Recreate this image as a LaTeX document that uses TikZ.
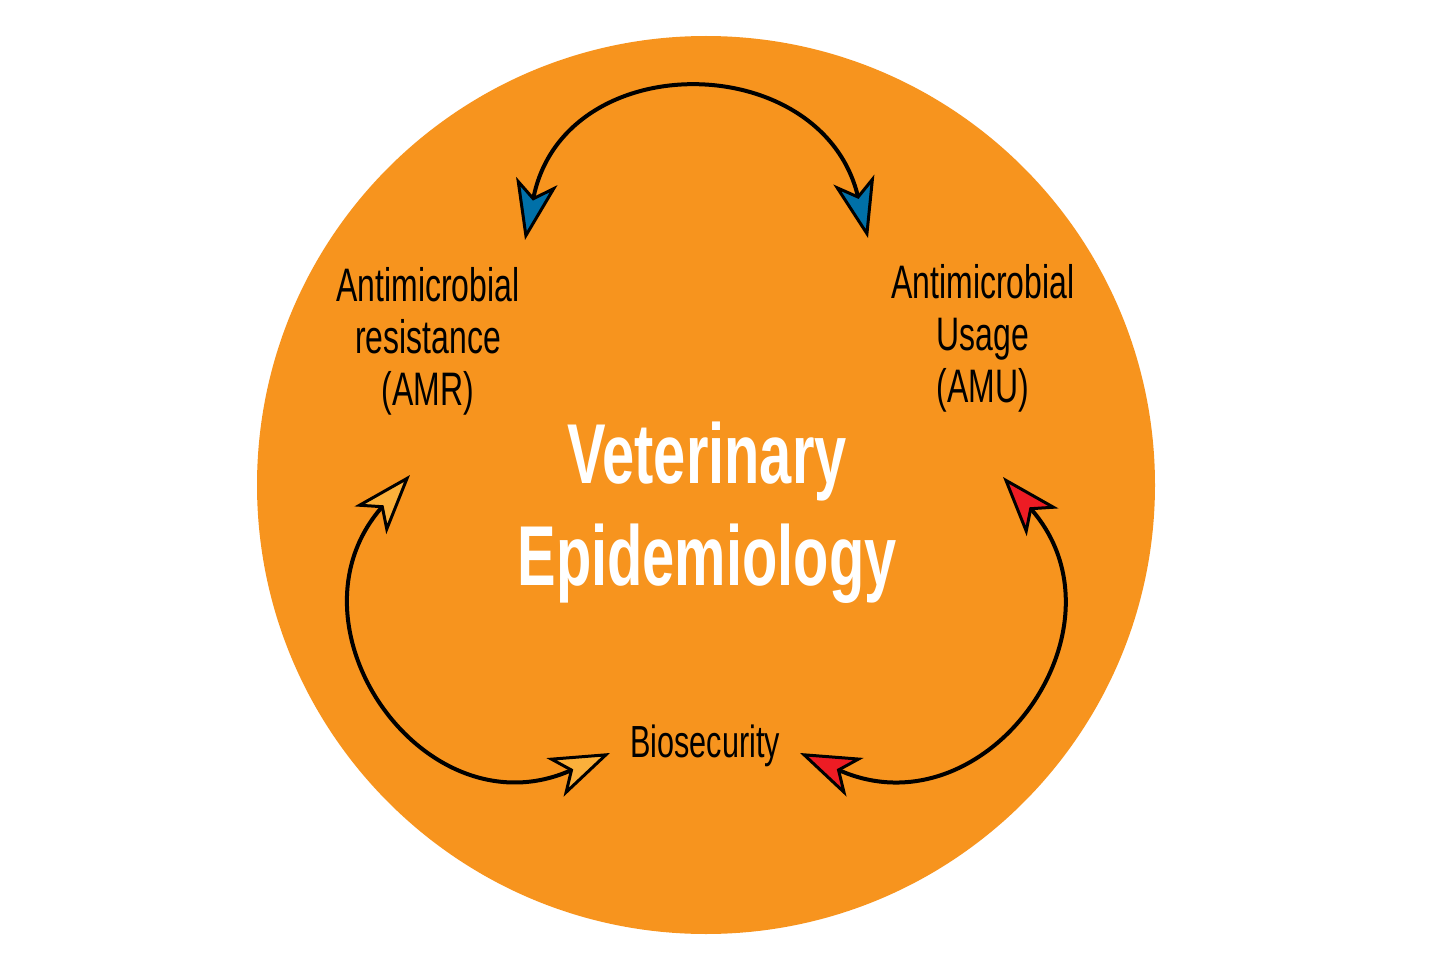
\documentclass[tikz,border=0pt]{standalone}
\usepackage{fontspec}
\setmainfont{Liberation Sans}[FakeStretch=0.68]
\usetikzlibrary{arrows.meta}
\definecolor{disc}{HTML}{F7941E}
\definecolor{topblue}{HTML}{0070A8}
\definecolor{leftgold}{HTML}{FBB03B}
\definecolor{rightred}{HTML}{ED1C24}
\tikzset{
  blue tip/.tip={Stealth[length=60pt, width=42pt, inset=16pt, line width=3pt, fill=topblue]},
  gold tip/.tip={Stealth[length=60pt, width=42pt, inset=16pt, line width=3pt, fill=leftgold]},
  red tip/.tip={Stealth[length=60pt, width=42pt, inset=16pt, line width=3pt, fill=rightred]}
}

\begin{document}
\begin{tikzpicture}[x=1pt, y=-1pt, line width=4pt,
  side label/.style={align=center, inner sep=0pt, anchor=base, font=\fontsize{47}{52}\selectfont},
  title label/.style={align=center, inner sep=0pt, anchor=base, text=white, font=\bfseries\fontsize{85}{102}\selectfont}]
\useasboundingbox (0,0) rectangle (1444,963);
\fill[disc] (706,485) circle[radius=449pt];

\node[side label] (amr) at (428,405) {Antimicrobial\\resistance\\(AMR)};
\node[side label] (amu) at (983,402) {Antimicrobial\\Usage\\(AMU)};
\node[side label, font=\fontsize{45}{50}\selectfont] (bio) at (705,757) {Biosecurity};
\node[title label] (vet) at (707,585) {Veterinary\\Epidemiology};

% arrow tips
\coordinate (amr-up) at (525,240);
\coordinate (amu-up) at (868,238);
\coordinate (amr-down) at (410,475);
\coordinate (bio-left) at (610,753);
\coordinate (amu-down) at (1003,477);
\coordinate (bio-right) at (800,753);

\draw[blue tip-blue tip] (amr-up) .. controls (564,45) and (822,48) .. (amu-up);
\draw[gold tip-gold tip] (amr-down) .. controls (278,626) and (425,835) .. (bio-left);
\draw[red tip-red tip] (amu-down) .. controls (1135,628) and (986,835) .. (bio-right);
\end{tikzpicture}
\end{document}
